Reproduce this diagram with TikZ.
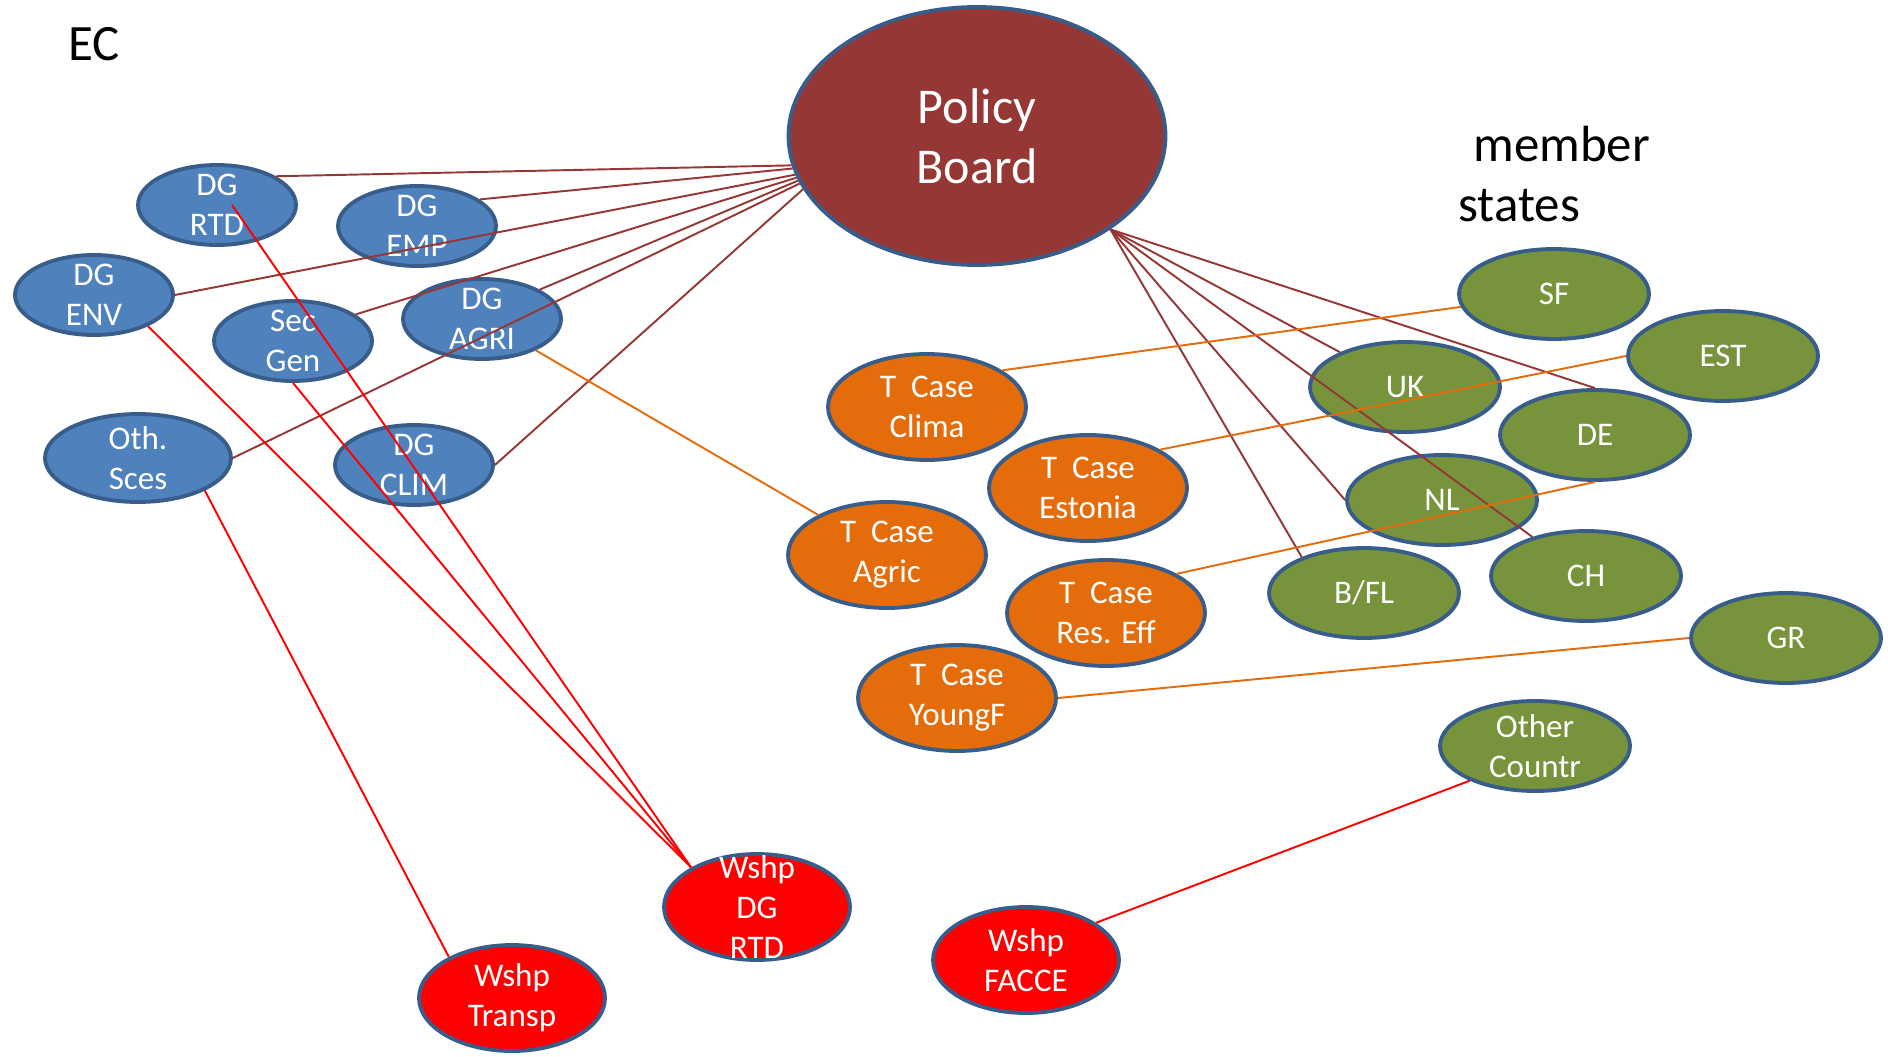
\documentclass[tikz,border=0pt]{standalone}
\usepackage{fontspec}
\setmainfont{Carlito}
\usetikzlibrary{shapes.geometric}

\definecolor{ecblue}{RGB}{79,129,189}
\definecolor{rimblue}{RGB}{56,93,138}
\definecolor{boardred}{RGB}{149,55,53}
\definecolor{caseorange}{RGB}{228,108,10}
\definecolor{msgreen}{RGB}{119,147,60}

\begin{document}
\begin{tikzpicture}[x=0.02cm,y=-0.02cm]
        \tikzstyle{blob}=[ellipse,draw=rimblue,line width=2.2pt,inner sep=0pt]
        \tikzstyle{txt}=[text=white,align=center,inner sep=0pt,font=\fontsize{18.8}{22.8}\selectfont]
        \tikzstyle{dg}=[blob,fill=ecblue,minimum width=3.16cm,minimum height=1.6cm]
        \tikzstyle{tcase}=[blob,fill=caseorange,minimum width=3.96cm,minimum height=2.12cm]
        \tikzstyle{ms}=[blob,fill=msgreen,minimum width=3.8cm,minimum height=1.8cm]
        \tikzstyle{wshp}=[blob,fill=red,minimum width=3.72cm,minimum height=2.12cm]
        \tikzstyle{pbline}=[draw=boardred,line width=1.1pt]
        \tikzstyle{tline}=[draw=caseorange,line width=1.1pt]
        \tikzstyle{wline}=[draw=red,line width=1.1pt]
        \useasboundingbox (0,0) rectangle (1888,1057);
        % titles
        \node[anchor=base west,inner sep=0pt,font=\fontsize{29}{34.7}\selectfont] (ec) at (68,61) {EC};
        \node[anchor=base west,inner sep=0pt,align=left,font=\fontsize{29}{34.7}\selectfont] (states) at (1458,222) {\hspace*{0.3cm}member\\states};
        % board
        \node[blob,fill=boardred,minimum width=7.54cm,minimum height=5.16cm,label={[txt,font=\fontsize{28.5}{34.1}\selectfont]center:{Policy\\Board}}] (pb) at (977,136) {};
        % EC side
        \node[dg,label={[txt]center:{DG\\RTD}}] (rtd) at (217,205) {};
        \node[dg,label={[txt]center:{DG\\EMP}}] (emp) at (417,226) {};
        \node[dg,label={[txt]center:{DG\\ENV}}] (env) at (94,295) {};
        \node[dg,label={[txt]center:{Sec\\Gen}}] (secgen) at (293,341) {};
        \node[dg,label={[txt]center:{DG\\AGRI}}] (agri) at (482,319) {};
        \node[dg,minimum width=3.72cm,minimum height=1.76cm,label={[txt]center:{Oth.\\Sces}}] (oth) at (138,458) {};
        \node[dg,label={[txt]center:{DG\\CLIM}}] (clim) at (414,465) {};
        % test cases
        \node[tcase,label={[txt]center:{T\ \ Case\\Clima}}] (tclima) at (927,407) {};
        \node[tcase,label={[txt]center:{T\ \ Case\\Estonia}}] (testonia) at (1088,488) {};
        \node[tcase,label={[txt]center:{T\ \ Case\\Agric}}] (tagric) at (887,555) {};
        \node[tcase,label={[txt]center:{T\ \ Case\\Res. Eff}}] (treseff) at (1106,613) {};
        \node[tcase,label={[txt]center:{T\ \ Case\\YoungF}}] (tyoungf) at (957,698) {};
        % member states
        \node[ms,label={[txt]center:SF}] (sf) at (1554,294) {};
        \node[ms,label={[txt]center:EST}] (est) at (1723,356) {};
        \node[ms,label={[txt]center:UK}] (uk) at (1405,387) {};
        \node[ms,label={[txt]center:DE}] (de) at (1595,435) {};
        \node[ms,label={[txt]center:NL}] (nl) at (1442,500) {};
        \node[ms,label={[txt]center:B/FL}] (bfl) at (1364,593) {};
        \node[ms,label={[txt]center:CH}] (ch) at (1586,576) {};
        \node[ms,label={[txt]center:GR}] (gr) at (1786,638) {};
        \node[ms,label={[txt]center:{Other\\Countr}}] (other) at (1535,746) {};
        % workshops
        \node[wshp,label={[txt]center:{Wshp\\DG\\RTD}}] (wrtd) at (757,907) {};
        \node[wshp,label={[txt]center:{Wshp\\Transp}}] (wtransp) at (512,998) {};
        \node[wshp,label={[txt]center:{Wshp\\FACCE}}] (wfacce) at (1026,960) {};
        % links
        \draw[pbline] (pb.189) -- (rtd.26);
        \draw[pbline] (pb.190) -- (emp.23);
        \draw[pbline] (pb.192) -- (env.east);
        \draw[pbline] (pb.193) -- (secgen.23);
        \draw[pbline] (pb.194) -- (agri.27);
        \draw[pbline] (pb.195) -- (oth.east);
        \draw[pbline] (pb.197) -- (clim.east);
        \draw[pbline] (pb.325) -- (de.north);
        \draw[pbline] (pb.325) -- (uk);
        \draw[pbline] (pb.325) -- (ch);
        \draw[pbline] (pb.325) -- (nl.west);
        \draw[pbline] (pb.325) -- (bfl.150);
        \draw[tline] (tclima.26) -- (sf);
        \draw[tline] (testonia.28) -- (est.west);
        \draw[tline] (treseff.29) -- (de.south);
        \draw[tline] (tyoungf.east) -- (gr.west);
        \draw[tline] (agri) -- (tagric);
        \draw[wline] ([xshift=0.3cm]rtd.center) -- (wrtd.149);
        \draw[wline] (env.330) -- (wrtd.149);
        \draw[wline] (secgen.south) -- (wrtd.149);
        \draw[wline] (oth.334) -- (wtransp.147);
        \draw[wline] (other.208) -- (wfacce.28);
\end{tikzpicture}
\end{document}
